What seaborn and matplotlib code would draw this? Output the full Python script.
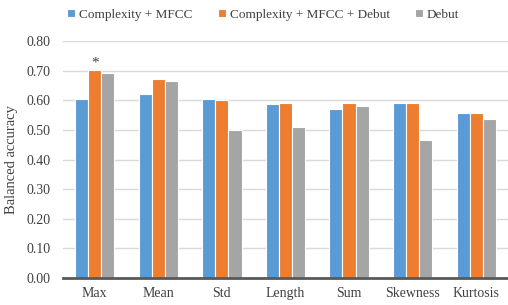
import pandas as pd
import numpy as np
import matplotlib
matplotlib.use('Agg')
import matplotlib.pyplot as plt
import seaborn as sns

features = ['Max', 'Mean', 'Std', 'Length', 'Sum', 'Skewness', 'Kurtosis']
series_names = ['Complexity + MFCC', 'Complexity + MFCC + Debut', 'Debut']
complexity_mfcc = [0.604, 0.622, 0.604, 0.587, 0.572, 0.591, 0.559]
complexity_mfcc_debut = [0.703, 0.673, 0.602, 0.590, 0.590, 0.590, 0.557]
debut = [0.694, 0.666, 0.501, 0.511, 0.582, 0.465, 0.536]
colors = ['#5B9BD5', '#ED7D31', '#A5A5A5']

df = pd.DataFrame({
    'feature': features * 3,
    'model': np.repeat(series_names, len(features)),
    'acc': complexity_mfcc + complexity_mfcc_debut + debut,
})

sns.set_style('white')
plt.rcParams['font.family'] = ['Liberation Serif', 'DejaVu Serif']

fig = plt.figure(figsize=(5.08, 3.05), dpi=100)
ax = fig.add_axes([0.124, 0.09, 0.876, 0.774])
sns.barplot(data=df, x='feature', y='acc', hue='model', palette=colors,
            saturation=1, width=0.62, edgecolor='white', linewidth=0.8, ax=ax)

ax.set_ylim(0, 0.8)
ax.set_yticks(np.arange(0, 0.81, 0.1))
ax.set_yticklabels([f'{v:.2f}' for v in np.arange(0, 0.81, 0.1)], fontsize=10, color='#404040')
ax.tick_params(axis='x', labelsize=10, labelcolor='#404040', length=0, pad=7)
ax.tick_params(axis='y', length=0, pad=9)
ax.yaxis.grid(True, color='#D9D9D9', linewidth=1)
ax.set_axisbelow(True)
for s in ['top', 'right', 'left']:
    ax.spines[s].set_visible(False)
ax.spines['bottom'].set_color('#595959')
ax.spines['bottom'].set_linewidth(2)
ax.set_xlabel('')
ax.set_ylabel('Balanced accuracy', fontsize=10.5, color='#404040', labelpad=6)

# significance marker above the Max orange bar
bar = ax.patches[len(features)]
ax.text(bar.get_x() + bar.get_width() / 2, bar.get_height() + 0.003, '*',
        ha='center', va='bottom', fontsize=11, color='#404040')

ax.legend(loc='upper center', bbox_to_anchor=(0.45, 1.19), ncol=3, frameon=False,
          fontsize=9.5, handlelength=0.6, handleheight=0.6, handletextpad=0.3,
          columnspacing=1.9, labelcolor='#404040')

fig.savefig('out.png', dpi=100)
